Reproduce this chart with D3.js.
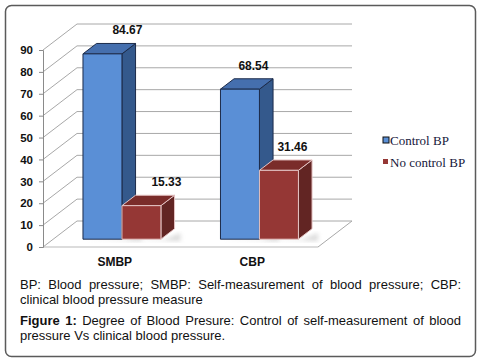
<!DOCTYPE html>
<html>
<head>
<meta charset="utf-8">
<script src="https://cdn.jsdelivr.net/npm/d3@7"></script>
<style>
  html, body { margin: 0; padding: 0; background: #fff; }
  #wrap { position: relative; width: 479px; height: 362px; overflow: hidden; }
  svg { position: absolute; left: 0; top: 0; }
  .cap { position: absolute; left: 20px; width: 441px; font-family: "Liberation Sans", Arial, sans-serif; font-size: 13px; color: #111; white-space: nowrap; }
  .just { text-align: justify; text-align-last: justify; }
</style>
</head>
<body>
<div id="wrap"></div>
<script>
// ---- data ----
const categories = ["SMBP", "CBP"];
const series = ["Control BP", "No control BP"];
const controlBP = [84.67, 68.54];
const noControlBP = [15.33, 31.46];
const yTicks = [0, 10, 20, 30, 40, 50, 60, 70, 80, 90];
const captionLine1 = "BP: Blood pressure; SMBP: Self-measurement of blood pressure; CBP:";
const captionLine2 = "clinical blood pressure measure";
const figureLabel = "Figure 1:";
const figureLine1 = " Degree of Blood Presure: Control of self-measurement of blood";
const figureLine2 = "pressure Vs clinical blood pressure.";

const values = [controlBP, noControlBP];

const W = 479, H = 362;
const wrap = d3.select("#wrap");
const svg = wrap.append("svg").attr("width", W).attr("height", H);

// outer frame
svg.append("rect").attr("x", 5.5).attr("y", 5.5).attr("width", 470).attr("height", 351)
  .attr("rx", 6).attr("fill", "#fff").attr("stroke", "#5a5a5a").attr("stroke-width", 1.5);

// scales (front plane)
const y = d3.scaleLinear().domain([0, 90]).range([247, 50]);
const x0 = d3.scaleBand().domain(categories).range([43, 318]).paddingInner(0.433).paddingOuter(0.2165);
const x1 = d3.scaleBand().domain(series).range([0, x0.bandwidth()]);

// 3D depth
const DX = 34, DY = -26;          // full floor depth
const PF = 0.3;                    // bar plane position in depth
const BF = 0.4;                    // bar depth
const pdx = DX * PF, pdy = DY * PF;
const bdx = DX * BF, bdy = DY * BF;

const gridColor = "#a8a8a8";
const grid = svg.append("g");
grid.append("line").attr("x1", 43).attr("x2", 318).attr("y1", y(0)).attr("y2", y(0))
  .attr("stroke", "#d0d0d0").attr("stroke-width", 1.5);
grid.append("line").attr("x1", 318).attr("y1", y(0)).attr("x2", 318 + DX).attr("y2", y(0) + DY)
  .attr("stroke", gridColor);
yTicks.forEach(t => {
  grid.append("path")
    .attr("d", `M43,${y(t)} L${43 + DX},${y(t) + DY} L${318 + DX},${y(t) + DY}`)
    .attr("fill", "none").attr("stroke", gridColor).attr("stroke-width", 1);
});

// axis
const axis = d3.axisLeft(y).tickValues(yTicks).tickSize(4).tickPadding(6).tickFormat(d3.format("d"));
const ag = svg.append("g").attr("transform", "translate(43,0)").call(axis);
ag.select(".domain").attr("stroke", "#8a8a8a");
ag.selectAll(".tick line").attr("stroke", "#8a8a8a");
ag.selectAll(".tick text").attr("font-family", "Liberation Sans, Arial, sans-serif")
  .attr("font-size", 11.5).attr("font-weight", "bold").attr("fill", "#111");

// shadows
const defs = svg.append("defs");
defs.append("filter").attr("id", "blur").append("feGaussianBlur").attr("stdDeviation", 2);

const colors = {
  "Control BP": { front: "#5a8fd6", side: "#34598c", top: "#456fae", stroke: "#1c2b4a" },
  "No control BP": { front: "#953735", side: "#622523", top: "#7a2c2a", stroke: "#e4c4c4" }
};

const bars = [];
categories.forEach((c, ci) => {
  series.forEach((s, si) => {
    bars.push({ cat: c, ser: s, v: values[si][ci] });
  });
});

const shadowG = svg.append("g");
bars.forEach(b => {
  const xl = x0(b.cat) + x1(b.ser) + pdx;
  const w = x1.bandwidth();
  const yb = y(0) + pdy;
  shadowG.append("path")
    .attr("d", `M${xl + 3},${yb} L${xl + w + 4},${yb} L${xl + w + bdx + 6},${yb + bdy + 4} L${xl + w + bdx + 6},${yb + 2} Z`)
    .attr("fill", "#bbb").attr("opacity", 0.5).attr("filter", "url(#blur)");
});

const barG = svg.append("g");
bars.forEach(b => {
  const col = colors[b.ser];
  const xl = x0(b.cat) + x1(b.ser) + pdx;
  const w = x1.bandwidth();
  const yt = y(b.v) + pdy;
  const yb = y(0) + pdy;
  const g = barG.append("g").attr("stroke", col.stroke).attr("stroke-width", 1).attr("stroke-linejoin", "round");
  g.append("path").attr("d", `M${xl + w},${yt} L${xl + w + bdx},${yt + bdy} L${xl + w + bdx},${yb + bdy} L${xl + w},${yb} Z`)
    .attr("fill", col.side);
  g.append("path").attr("d", `M${xl},${yt} L${xl + bdx},${yt + bdy} L${xl + w + bdx},${yt + bdy} L${xl + w},${yt} Z`)
    .attr("fill", col.top);
  g.append("rect").attr("x", xl).attr("y", yt).attr("width", w).attr("height", yb - yt)
    .attr("fill", col.front);
});

// value labels
const labelG = svg.append("g");
bars.forEach(b => {
  const xl = x0(b.cat) + x1(b.ser) + pdx;
  const w = x1.bandwidth();
  const catC = x0(b.cat) + x0.bandwidth() / 2 + pdx;
  const off = 25 - 0.084 * (catC - 122);
  labelG.append("text")
    .attr("x", xl + w / 2 + off)
    .attr("y", y(b.v) + pdy + bdy - 9)
    .attr("text-anchor", "middle")
    .attr("font-family", "Liberation Sans, Arial, sans-serif")
    .attr("font-size", 12).attr("font-weight", "bold").attr("fill", "#111")
    .text(d3.format(".2f")(b.v));
});

// category labels
svg.append("g").selectAll("text").data(categories).join("text")
  .attr("x", d => x0(d) + x0.bandwidth() / 2 + 3)
  .attr("y", 266)
  .attr("text-anchor", "middle")
  .attr("font-family", "Liberation Sans, Arial, sans-serif")
  .attr("font-size", 12).attr("font-weight", "bold").attr("fill", "#111")
  .text(d => d);

// legend
const legend = svg.append("g");
series.forEach((s, i) => {
  const ly = 145 + i * 22;
  const sz = i === 0 ? 6 : 5;
  legend.append("rect").attr("x", 383).attr("y", ly - 8).attr("width", sz).attr("height", sz)
    .attr("fill", colors[s].front)
    .attr("stroke", i === 0 ? "#111" : "none").attr("stroke-width", 1);
  legend.append("text").attr("x", 390).attr("y", ly)
    .attr("font-family", "Liberation Serif, Times New Roman, serif")
    .attr("font-size", 13).attr("fill", "#16163a").text(s);
});

// caption
wrap.append("div").attr("class", "cap just").style("top", "277px").text(captionLine1);
wrap.append("div").attr("class", "cap").style("top", "292px").text(captionLine2);
const f1 = wrap.append("div").attr("class", "cap just").style("top", "313px");
f1.append("b").text(figureLabel);
f1.append("span").text(figureLine1);
wrap.append("div").attr("class", "cap").style("top", "328px").text(figureLine2);
</script>
</body>
</html>
